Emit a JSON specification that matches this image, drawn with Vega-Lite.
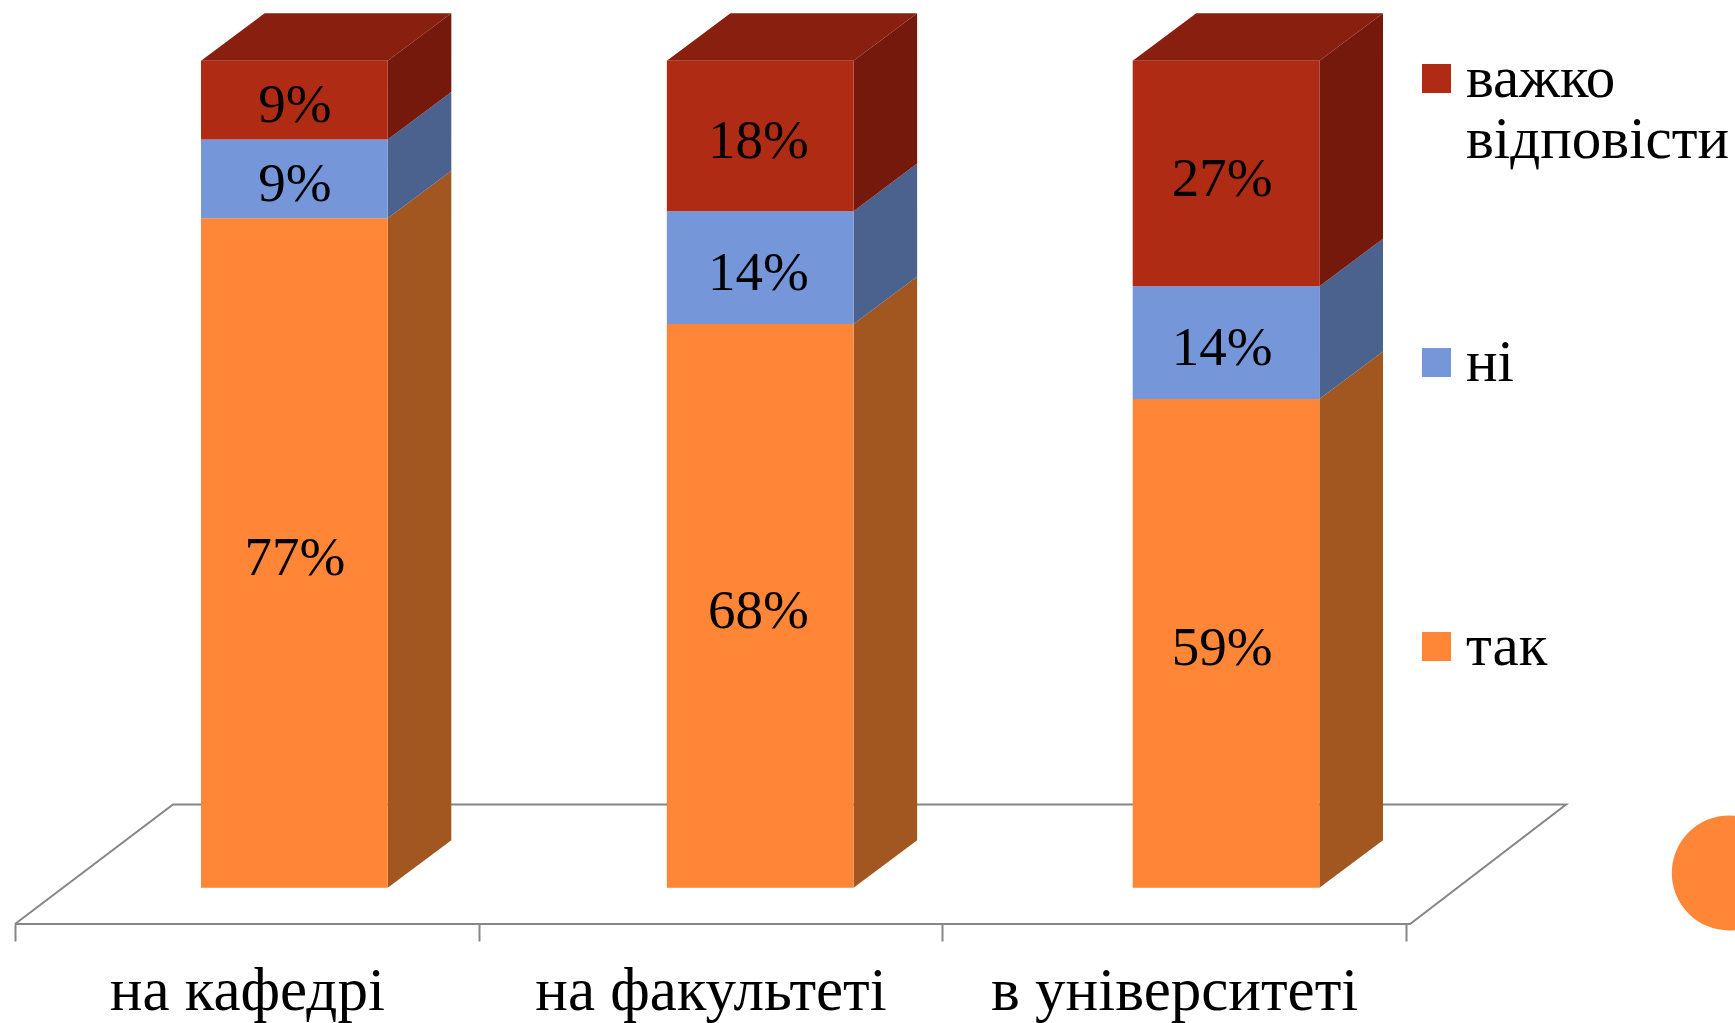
{
"$schema":"https://vega.github.io/schema/vega-lite/v6.json",
"width":1391,"height":911,"autosize":"none",
"padding":{"left":15,"top":13,"right":329,"bottom":99},
"background":"white",
"config":{"view":{"stroke":null}},
"datasets":{
"shares":[
{"place":"на кафедрі","answer":"так","value":77.27},
{"place":"на кафедрі","answer":"ні","value":9.09},
{"place":"на кафедрі","answer":"важко відповісти","value":9.09},
{"place":"на факультеті","answer":"так","value":68.18},
{"place":"на факультеті","answer":"ні","value":13.64},
{"place":"на факультеті","answer":"важко відповісти","value":18.18},
{"place":"в університеті","answer":"так","value":59.09},
{"place":"в університеті","answer":"ні","value":13.64},
{"place":"в університеті","answer":"важко відповісти","value":27.27}
],
"floor":[
{"corner":0,"fx":0,"fy":-0.0438},
{"corner":1,"fx":0.3392,"fy":0.1008},
{"corner":2,"fx":3.3297,"fy":0.1008},
{"corner":3,"fx":2.9947,"fy":-0.0438},
{"corner":4,"fx":0,"fy":-0.0438}
],
"dot":[{"dx":3.68,"dy":0.0179}]
},
"data":{"name":"shares"},
"transform":[
{"stack":"value","groupby":["place"],"sort":[{"field":"answer","order":"descending"}],"offset":"normalize","as":["y0","y1"]},
{"calculate":"indexof(['на кафедрі','на факультеті','в університеті'],datum.place)+0.3993","as":"xl"},
{"calculate":"datum.xl+0.4008","as":"xr"},
{"calculate":"(datum.y0+datum.y1)/2","as":"ym"},
{"calculate":"round(datum.value)+'%'","as":"pct"}
],
"layer":[
{"layer":[
{"data":{"name":"floor"},"transform":[],
 "mark":{"type":"line","stroke":"#868686","strokeWidth":2,"interpolate":"linear"},
 "encoding":{
  "x":{"field":"fx","type":"quantitative","axis":null,"scale":{"domain":[0,2.986],"nice":false,"zero":false}},
  "y":{"field":"fy","type":"quantitative","axis":null,"scale":{"domain":[-0.0438,1.0578],"nice":false,"zero":false}},
  "order":{"field":"corner"}}},
{"data":{"name":"dot"},"transform":[],
 "mark":{"type":"point","filled":true,"color":"#FF8636","opacity":1,"size":13225,"clip":false},
 "encoding":{
  "x":{"field":"dx","type":"quantitative","axis":null},
  "y":{"field":"dy","type":"quantitative","axis":null}}},
{"transform":[
 {"calculate":"[0,1]","as":"t"},{"flatten":["t"]},
 {"calculate":"datum.xr+datum.t*0.1365","as":"sx"},
 {"calculate":"datum.y0+datum.t*0.0575","as":"sy0"},
 {"calculate":"datum.y1+datum.t*0.0575","as":"sy1"}],
 "mark":{"type":"area","orient":"vertical","opacity":1,"line":false},
 "encoding":{
  "x":{"field":"sx","type":"quantitative","axis":null},
  "y":{"field":"sy0","type":"quantitative","axis":null,"stack":null},
  "y2":{"field":"sy1"},
  "detail":{"field":"place"},
  "fill":{"field":"answer","type":"nominal","legend":null,"scale":{"domain":["так","ні","важко відповісти"],"range":["#A25620","#4B628E","#74190B"]}}}},
{"transform":[
 {"filter":"datum.answer=='важко відповісти'"},
 {"calculate":"[0,1]","as":"t"},{"flatten":["t"]},
 {"calculate":"datum.xl+datum.t*0.1365","as":"tx0"},
 {"calculate":"datum.xr+datum.t*0.1365","as":"tx1"},
 {"calculate":"datum.y1+datum.t*0.0575","as":"ty"}],
 "mark":{"type":"area","orient":"horizontal","color":"#881F0F","opacity":1},
 "encoding":{
  "y":{"field":"ty","type":"quantitative","axis":null,"stack":null},
  "x":{"field":"tx0","type":"quantitative","axis":null},
  "x2":{"field":"tx1"},
  "detail":{"field":"place"}}},
{"mark":{"type":"rect"},
 "encoding":{
  "x":{"field":"xl","type":"quantitative","axis":null},
  "x2":{"field":"xr"},
  "y":{"field":"y0","type":"quantitative","axis":null},
  "y2":{"field":"y1"},
  "color":{"field":"answer","type":"nominal","scale":{"domain":["важко відповісти","ні","так"],"range":["#B02B14","#7597DA","#FF8636"]},
   "legend":{"title":null,"orient":"none","legendX":1392,"legendY":36,"symbolType":"square","symbolSize":841,"symbolStrokeWidth":0,"symbolOpacity":1,"gridAlign":"all",
    "labelFont":"Liberation Serif","labelFontSize":59,"labelColor":"#000000","labelOffset":0,"labelLimit":400,"rowPadding":163,
    "labelExpr":"datum.label=='важко відповісти'?['важко','відповісти']:datum.label"}}}}
]},
{"layer":[
{"mark":{"type":"rule","opacity":0},
 "encoding":{
  "x":{"field":"place","type":"nominal","title":null,
   "scale":{"domain":["на кафедрі","на факультеті","в університеті"],"paddingInner":0,"paddingOuter":0},
   "axis":{"tickBand":"extent","labelAngle":0,"domain":false,"tickColor":"#868686","tickWidth":2,"tickSize":17,"labelFont":"Liberation Serif","labelFontSize":61,"labelColor":"#000000","labelPadding":20,"labelLimit":600,"grid":false}}}},
{"mark":{"type":"text","font":"Liberation Serif","fontSize":55,"color":"#000000","baseline":"middle","align":"center","dy":5,"xOffset":48},
 "encoding":{
  "x":{"field":"place","type":"nominal"},
  "y":{"field":"ym","type":"quantitative","axis":null},
  "text":{"field":"pct"}}}
]}
],
"resolve":{"scale":{"x":"independent"}}
}
